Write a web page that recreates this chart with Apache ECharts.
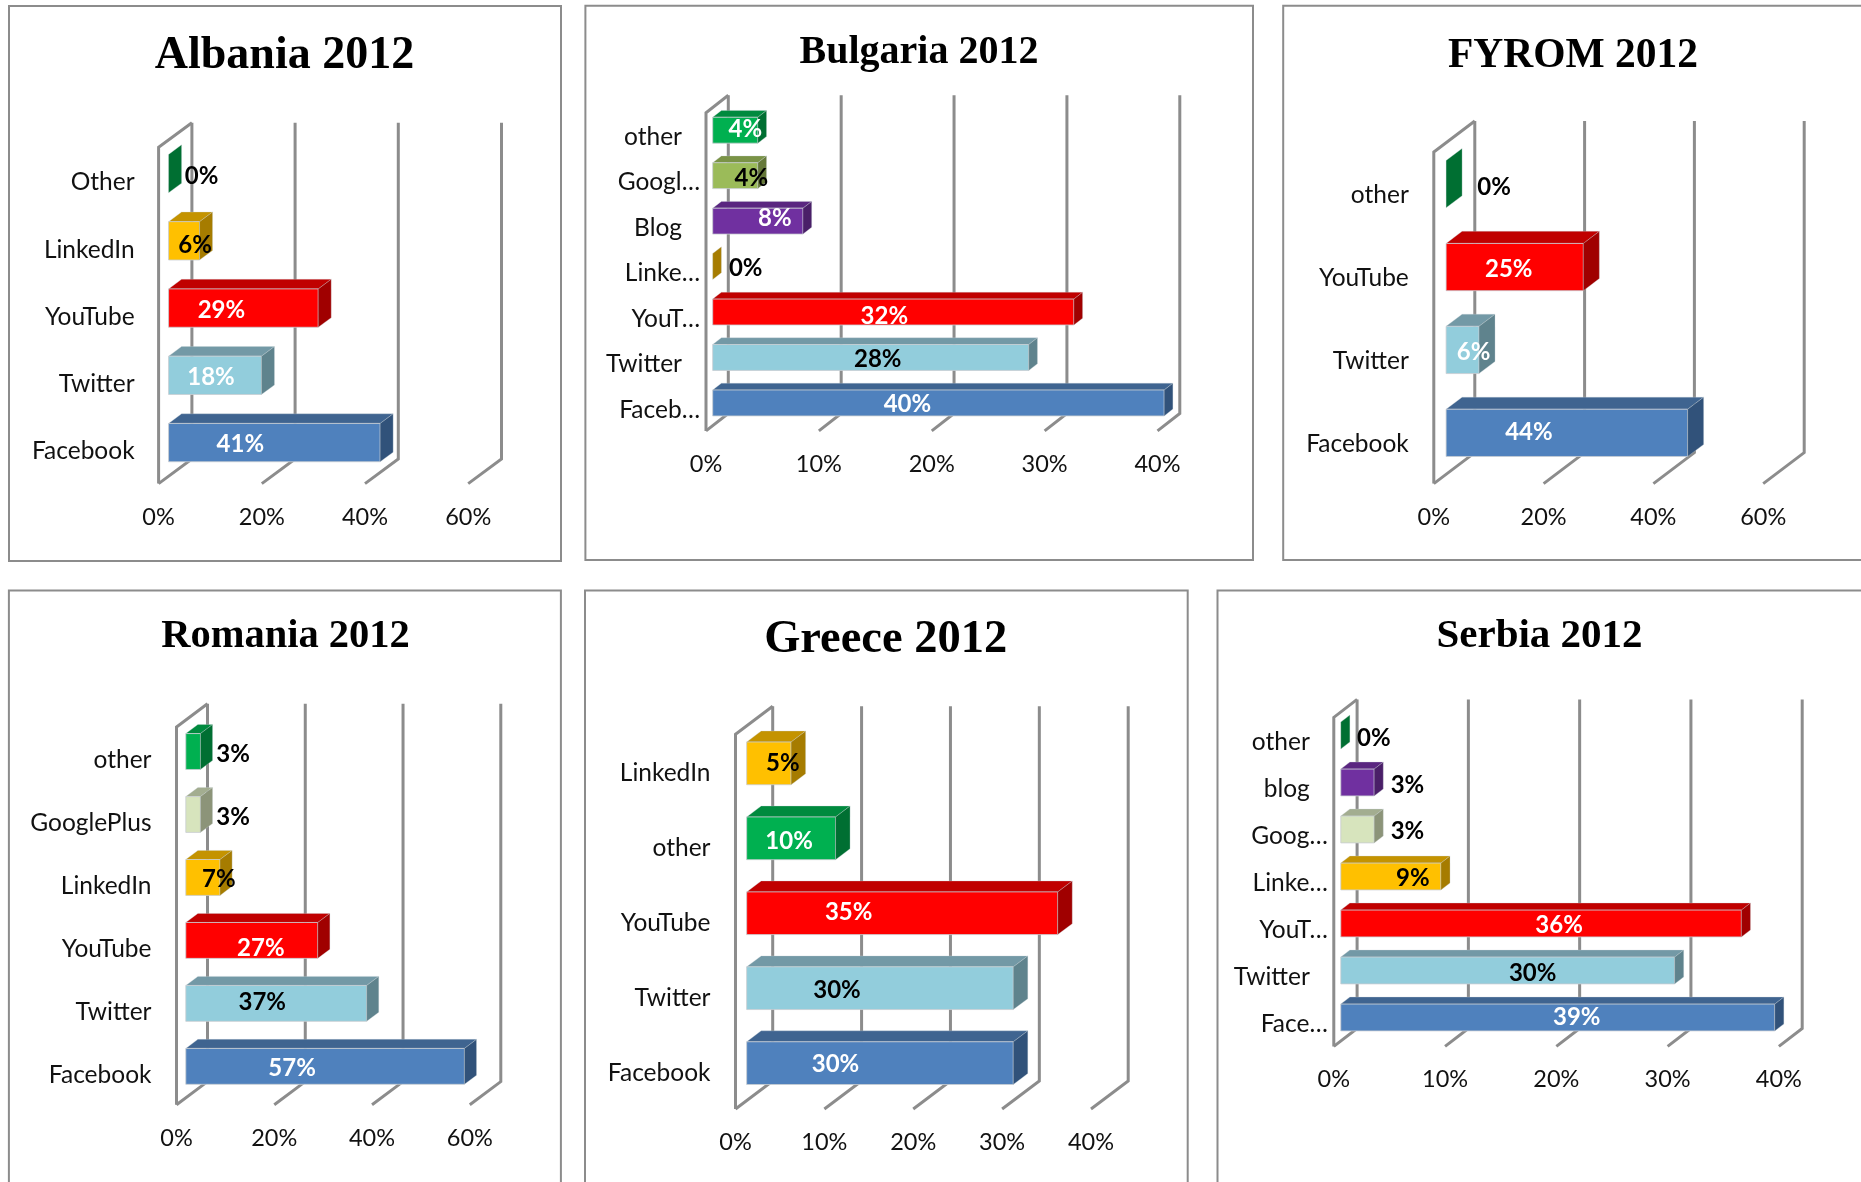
<!DOCTYPE html>
<html>
<head>
<meta charset="utf-8">
<style>html,body{margin:0;padding:0;background:#fff}#c{width:1861px;height:1182px}</style>
<script src="https://cdn.jsdelivr.net/npm/echarts@6/dist/echarts.min.js"></script>
</head>
<body>
<div id="c"></div>
<script>
// ---- data (bottom category first) ----
const albaniaCategories = ['Facebook','Twitter','YouTube','LinkedIn','Other'];
const albaniaValues = [41,18,29,6,0];
const albaniaTicks = [0,20,40,60];

const bulgariaCategories = ['Faceb…','Twitter','YouT…','Linke…','Blog','Googl…','other'];
const bulgariaValues = [40,28,32,0,8,4,4];
const bulgariaTicks = [0,10,20,30,40];

const fyromCategories = ['Facebook','Twitter','YouTube','other'];
const fyromValues = [44,6,25,0];
const fyromTicks = [0,20,40,60];

const romaniaCategories = ['Facebook','Twitter','YouTube','LinkedIn','GooglePlus','other'];
const romaniaValues = [57,37,27,7,3,3];
const romaniaTicks = [0,20,40,60];

const greeceCategories = ['Facebook','Twitter','YouTube','other','LinkedIn'];
const greeceValues = [30,30,35,10,5];
const greeceTicks = [0,10,20,30,40];

const serbiaCategories = ['Face…','Twitter','YouT…','Linke…','Goog…','blog','other'];
const serbiaValues = [39,30,36,9,3,3,0];
const serbiaTicks = [0,10,20,30,40];

// ---- styles: [front, top, side] ----
const palette = {
  fb:['#4F81BD','#3F6490','#31527A'],
  tw:['#92CDDC','#7399A6','#5F838D'],
  yt:['#FF0000','#C00000','#A00000'],
  li:['#FFC000','#C49300','#A67C00'],
  ot:['#00B050','#008A3E','#006F32'],
  go:['#9BBB59','#7A9346','#66793A'],
  gp:['#D7E4BD','#A3AD90','#8C9479'],
  bl:['#7030A0','#5A2680','#4A1F68']
};

// ---- layout: pixel positions of each panel ----
const panels = [
 {title:'Albania 2012', tx:279.5, ty:51, tsize:46, frame:[9,6,552,555],
  x0:158.6, x1:468.2, yb:483.6, yt:147.3, dx:33.3, dy:-24.6, margin:24, pad:0,
  cats:albaniaCategories, vals:albaniaValues, ticks:albaniaTicks,
  keys:['fb','tw','yt','li','ot'], lc:'wwwkk',
  off:[[-34,2],[-4,2],[-22,2],[11,4],[33,3]]},
 {title:'Bulgaria 2012', tx:914, ty:48, tsize:40, frame:[585.4,5.8,667.6,554.2],
  x0:706, x1:1157.5, yb:430.9, yt:112.7, dx:22.3, dy:-17.4, margin:6, pad:18,
  cats:bulgariaCategories, vals:bulgariaValues, ticks:bulgariaTicks,
  keys:['fb','tw','yt','li','bl','go','ot'], lc:'wkwkwkw',
  off:[[-31,1],[7,2],[-9,4],[33,2],[17,-3],[16,3],[10,-0.5]]},
 {title:'FYROM 2012', tx:1568, ty:51, tsize:41.5, frame:[1283.2,5.8,640,554.2],
  x0:1433.8, x1:1763.2, yb:483.6, yt:152, dx:41, dy:-31, margin:25, pad:0,
  cats:fyromCategories, vals:fyromValues, ticks:fyromTicks,
  keys:['fb','tw','yt','ot'], lc:'wwwk',
  off:[[-38,-0.5],[11,2],[-6,2],[48,3.5]]},
 {title:'Romania 2012', tx:280.5, ty:632, tsize:40.5, frame:[8.9,590.4,552,640],
  x0:176.5, x1:469.8, yb:1104.8, yt:727, dx:31, dy:-23.2, margin:25, pad:0,
  cats:romaniaCategories, vals:romaniaValues, ticks:romaniaTicks,
  keys:['fb','tw','yt','li','gp','ot'], lc:'wkwkkk',
  off:[[-33,2],[-14,-1],[9,8],[16,2],[40,3],[40,3]]},
 {title:'Greece 2012', tx:880.7, ty:635, tsize:46.5, frame:[585,590.4,602.7,640],
  x0:735.5, x1:1091, yb:1109, yt:734.3, dx:37.2, dy:-28, margin:25, pad:0,
  cats:greeceCategories, vals:greeceValues, ticks:greeceTicks,
  keys:['fb','tw','yt','ot','li'], lc:'wkwwk',
  off:[[-44.5,1.5],[-43,2.5],[-53.5,-1],[-2,2.5],[14,0]]},
 {title:'Serbia 2012', tx:1534.5, ty:631, tsize:41, frame:[1217.5,590.4,700,640],
  x0:1333.8, x1:1778.9, yb:1046.4, yt:717.4, dx:23.3, dy:-18, margin:6, pad:18,
  cats:serbiaCategories, vals:serbiaValues, ticks:serbiaTicks,
  keys:['fb','tw','yt','li','gp','bl','ot'], lc:'wkwkkkk',
  off:[[19,0],[25,2.5],[18,2],[22,1.5],[50,2],[50,3],[33,3]]}
];

const Z0 = 0.3, Z1 = 0.69, BAR = 0.57;
const SANS = 'Lato, Carlito, "Open Sans", sans-serif';
const SERIF = '"Liberation Serif", serif';
const CAT_SIZE = 24.5, TICK_SIZE = 23.5, VALUE_SIZE = 24;
const WALL = '#8c8c8c';

const option = {
  backgroundColor:'#fff', animation:false,
  title:[], grid:[], xAxis:[], yAxis:[], series:[], graphic:[]
};

panels.forEach((p,i)=>{
  option.graphic.push({type:'rect', silent:true, z:-1,
    shape:{x:p.frame[0],y:p.frame[1],width:p.frame[2],height:p.frame[3]},
    style:{fill:'#fff',stroke:'#8c8c8c',lineWidth:2}});
  option.title.push({text:p.title,left:p.tx,top:p.ty,textAlign:'center',textVerticalAlign:'middle',
    textStyle:{fontFamily:SERIF,fontWeight:'bold',fontSize:p.tsize,color:'#000'}});
  option.grid.push({left:p.x0,top:p.yt,width:p.x1-p.x0,height:p.yb-p.yt,containLabel:false,show:false});
  option.xAxis.push({type:'value',gridIndex:i,min:0,max:p.ticks[p.ticks.length-1],interval:p.ticks[1]-p.ticks[0],
    axisLine:{show:false},axisTick:{show:false},splitLine:{show:false},
    axisLabel:{formatter:'{value}%',margin:21.5,fontFamily:SANS,fontSize:TICK_SIZE,color:'#111',hideOverlap:false}});
  option.yAxis.push({type:'category',gridIndex:i,data:p.cats,
    axisLine:{show:false},axisTick:{show:false},splitLine:{show:false},
    axisLabel:{interval:0,margin:p.margin,padding:[3,0,0,0],fontFamily:SANS,fontSize:CAT_SIZE,color:'#111',
      formatter:v=>(p.pad && !v.endsWith('…'))?'{n|'+v+'}':v,
      rich:{n:{padding:[0,p.pad,0,0],fontFamily:SANS,fontSize:CAT_SIZE,color:'#111'}}}});

  // wall and floor lines
  option.series.push({type:'custom',xAxisIndex:i,yAxisIndex:i,z:1,silent:true,clip:false,
    data:p.ticks.map(t=>[t,0]),encode:{x:0,y:1},
    renderItem(params,api){
      const c=params.coordSys, x=api.coord([api.value(0),0])[0];
      const yb=c.y+c.height, yt=c.y;
      const ls={stroke:WALL,lineWidth:3,fill:null};
      const kids=[
        {type:'polyline',shape:{points:[[x,yb],[x+p.dx,yb+p.dy],[x+p.dx,yt+p.dy]]},style:ls}
      ];
      if(api.value(0)===0) kids.push({type:'polyline',shape:{points:[[x,yb],[x,yt],[x+p.dx,yt+p.dy]]},style:ls});
      return {type:'group',children:kids};
    }});

  // 3-D bars
  option.series.push({type:'custom',xAxisIndex:i,yAxisIndex:i,z:2,silent:true,clip:false,
    data:p.vals.map((v,k)=>[v,k]),encode:{x:0,y:1},
    renderItem(params,api){
      const k=api.value(1), v=api.value(0);
      const base=api.coord([0,k]), end=api.coord([v,k]);
      const band=api.size([0,1])[1], h=band*BAR/2;
      const col=palette[p.keys[k]];
      const xa=base[0]+Z0*p.dx, xb=end[0]+Z0*p.dx, cy=base[1]+Z0*p.dy;
      const ddx=(Z1-Z0)*p.dx, ddy=(Z1-Z0)*p.dy;
      const top=cy-h, bot=cy+h;
      const kids=[];
      if(v>0){
        kids.push({type:'polygon',shape:{points:[[xa,top],[xa+ddx,top+ddy],[xb+ddx,top+ddy],[xb,top]]},
          style:{fill:col[1],stroke:'rgba(200,210,215,.5)',lineWidth:.6}});
        kids.push({type:'polygon',shape:{points:[[xa,top],[xb,top],[xb,bot],[xa,bot]]},
          style:{fill:col[0],stroke:'rgba(200,205,210,.8)',lineWidth:1}});
      }
      kids.push({type:'polygon',shape:{points:[[xb,top],[xb+ddx,top+ddy],[xb+ddx,bot+ddy],[xb,bot]]},
        style:{fill:col[2],stroke:'rgba(200,210,215,.5)',lineWidth:.6}});
      const o=p.off[k];
      kids.push({type:'text',z2:10,style:{text:v+'%',x:(xa+xb)/2+o[0],y:cy+o[1],align:'center',verticalAlign:'middle',
        fontFamily:SANS,fontWeight:'bold',fontSize:VALUE_SIZE,fill:p.lc[k]==='w'?'#fff':'#000'}});
      return {type:'group',children:kids};
    }});
});

const chart=echarts.init(document.getElementById('c'),null,{renderer:'canvas',width:1861,height:1182});
chart.setOption(option);
</script>
</body>
</html>
